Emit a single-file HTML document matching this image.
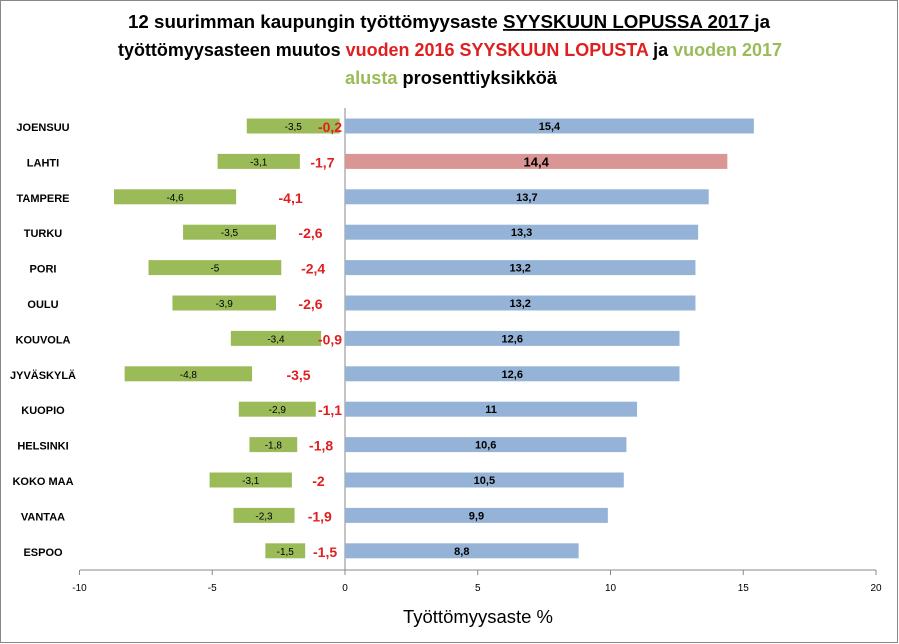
<!DOCTYPE html>
<html><head><meta charset="utf-8"><style>
body{margin:0;background:#fff;}
svg{display:block;font-family:"Liberation Sans",sans-serif;}
</style></head><body>
<svg id="chart" width="899" height="644">
<rect x="0.5" y="0.5" width="897" height="642" fill="#fff" stroke="#888"/>
<g font-weight="bold" font-size="18">
<text x="128" y="28" textLength="642" lengthAdjust="spacingAndGlyphs">12 suurimman kaupungin työttömyysaste <tspan text-decoration="underline">SYYSKUUN LOPUSSA 2017 </tspan> ja</text>
<text x="118" y="56" textLength="664" lengthAdjust="spacingAndGlyphs">työttömyysasteen muutos <tspan fill="#e02020">vuoden 2016 SYYSKUUN LOPUSTA</tspan> ja <tspan fill="#9bbb59">vuoden 2017</tspan></text>
<text x="345" y="84" textLength="212" lengthAdjust="spacingAndGlyphs"><tspan fill="#9bbb59">alusta</tspan> prosenttiyksikköä</text>
</g>
<g id="plot"></g>
<text x="478" y="623" font-size="18" text-anchor="middle" textLength="150" lengthAdjust="spacingAndGlyphs">Työttömyysaste %</text>
</svg>
<script>
const cities=["JOENSUU","LAHTI","TAMPERE","TURKU","PORI","OULU","KOUVOLA","JYVÄSKYLÄ","KUOPIO","HELSINKI","KOKO MAA","VANTAA","ESPOO"];
const rates=[15.4,14.4,13.7,13.3,13.2,13.2,12.6,12.6,11,10.6,10.5,9.9,8.8];
const yearChange=[-0.2,-1.7,-4.1,-2.6,-2.4,-2.6,-0.9,-3.5,-1.1,-1.8,-2,-1.9,-1.5];
const ytdChange=[-3.5,-3.1,-4.6,-3.5,-5,-3.9,-3.4,-4.8,-2.9,-1.8,-3.1,-2.3,-1.5];
const ticks=[-10,-5,0,5,10,15,20];
const NS="http://www.w3.org/2000/svg";
const g=document.getElementById('plot');
const x=v=>345+v*26.55;
const y=i=>126+i*35.4;
const fmt=v=>String(v).replace('.',',');
function mk(tag,a,txt){const e=document.createElementNS(NS,tag);for(const k in a)e.setAttribute(k,a[k]);if(txt!==undefined)e.textContent=txt;g.appendChild(e);return e;}
let e;
e=mk('line',{x1:80,y1:570,x2:876,y2:570,stroke:'#888'});


e=mk('line',{x1:345,y1:108,x2:345,y2:570,stroke:'#888'});


ticks.forEach(t=>{
 e=mk('line',{x1:x(t),y1:570,x2:x(t),y2:575,stroke:'#888'});
 
 
 e=mk('text',{x:x(t),y:591,'font-size':10,'text-anchor':'middle'},String(t));
 
 
});
cities.forEach((c,i)=>{
 const cy=y(i);
 e=mk('text',{x:43,y:cy+5,'font-size':11,'font-weight':'bold','text-anchor':'middle'},c);
 
 
 const r=rates[i];
 e=mk('rect',{x:345,y:cy-7.5,width:x(r)-345,height:15,fill:c==='LAHTI'?'#d99694':'#95b3d7'});
 
 
 e=mk('text',{x:(345+x(r))/2,y:cy+4+(c==='LAHTI'?1:0),'font-size':c==='LAHTI'?13:11,'font-weight':'bold','text-anchor':'middle'},fmt(r));
 
 
 const a=yearChange[i],b=ytdChange[i];
 e=mk('rect',{x:x(a+b),y:cy-7.5,width:x(a)-x(a+b),height:15,fill:'#9bbb59'});
 
 
 e=mk('text',{x:(x(a)+x(a+b))/2,y:cy+4,'font-size':10,'text-anchor':'middle'},fmt(b));
 
 
 e=mk('text',{x:Math.min(x(a/2),330),y:cy+6,'font-size':14,'font-weight':'bold',fill:'#e02020','text-anchor':'middle'},fmt(a));
 
 
});
</script>
</body></html>
